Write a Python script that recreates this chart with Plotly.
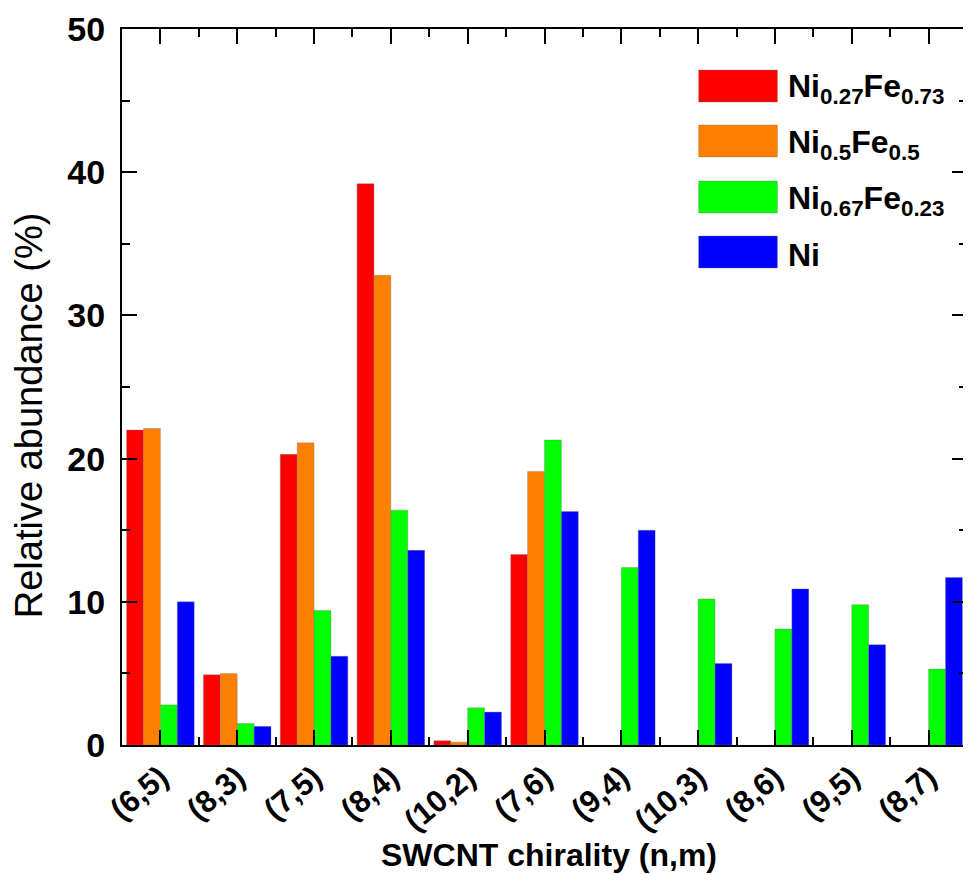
import plotly.graph_objects as go

categories = ["(6,5)", "(8,3)", "(7,5)", "(8,4)", "(10,2)", "(7,6)", "(9,4)", "(10,3)", "(8,6)", "(9,5)", "(8,7)"]
series_names = ["Ni<sub>0.27</sub>Fe<sub>0.73</sub>", "Ni<sub>0.5</sub>Fe<sub>0.5</sub>",
                "Ni<sub>0.67</sub>Fe<sub>0.23</sub>", "Ni"]
ni027fe073 = [22.0, 4.9, 20.3, 39.2, 0.3, 13.3, None, None, None, None, None]
ni05fe05 = [22.1, 5.0, 21.1, 32.8, 0.2, 19.1, None, None, None, None, None]
ni067fe023 = [2.8, 1.5, 9.4, 16.4, 2.6, 21.3, 12.4, 10.2, 8.1, 9.8, 5.3]
ni = [10.0, 1.3, 6.2, 13.6, 2.3, 16.3, 15.0, 5.7, 10.9, 7.0, 11.7]
series_values = [ni027fe073, ni05fe05, ni067fe023, ni]
colors = ["#FF0000", "#FF8000", "#00FF00", "#0000FF"]
x_title = "SWCNT chirality (n,m)"
y_title = "Relative abundance (%)"

FONT = "Liberation Sans, Arial, sans-serif"
xpos = list(range(len(categories)))

fig = go.Figure()
for name, vals, col in zip(series_names, series_values, colors):
    fig.add_trace(go.Bar(x=xpos, y=vals, name=name,
                         marker=dict(color=col, line=dict(width=0.6, color="rgba(120,120,120,0.6)")),
                         showlegend=False))

# page body margin of 8px compensated
OFF = 8
FW, FH = 971 - OFF, 875 - OFF
L, R, T, B = 122 - OFF, 969 - OFF, 29 - OFF, 745 - OFF
W, H = R - L, B - T


def px(xs):
    return (xs - OFF - L) / W


def py(ys):
    return (B - (ys - OFF)) / H


rows = [86, 141, 197, 252]
for name, col, cy in zip(series_names, colors, rows):
    fig.add_shape(type="rect", xref="paper", yref="paper",
                  x0=px(700), x1=px(779), y0=py(cy + 16), y1=py(cy - 16),
                  fillcolor=col, line=dict(width=0.6, color="rgba(120,120,120,0.6)"))
    fig.add_annotation(xref="paper", yref="paper", x=px(788), y=py(cy + 3),
                       text=name, showarrow=False, xanchor="left", yanchor="middle",
                       font=dict(family=FONT, size=32, color="black", weight="bold"))

fig.add_annotation(xref="paper", yref="paper", x=px(29), y=py(415), text=y_title, textangle=-90,
                   showarrow=False, xanchor="center", yanchor="middle",
                   font=dict(family=FONT, size=38, color="black"))
fig.add_annotation(xref="paper", yref="paper", x=px(550), y=py(855), text=x_title,
                   showarrow=False, xanchor="center", yanchor="middle",
                   font=dict(family=FONT, size=32, color="black", weight="bold"))

fig.update_layout(
    width=FW, height=FH,
    margin=dict(l=L, r=FW - R, t=T, b=FH - B),
    paper_bgcolor="white", plot_bgcolor="white",
    barmode="group", bargap=0.12, bargroupgap=0,
    font=dict(family=FONT, color="black"),
)
fig.update_xaxes(
    range=[-0.5, len(categories) - 0.5],
    tickmode="array", tickvals=xpos, ticktext=categories,
    tickangle=-40, tickfont=dict(family=FONT, size=31, weight="bold"),
    ticks="inside", ticklen=15, tickwidth=2, tickcolor="black",
    minor=dict(tick0=0.5, dtick=1, ticks="inside", ticklen=8, tickwidth=2, tickcolor="black"),
    showline=True, linewidth=2, linecolor="black", mirror="allticks",
    showgrid=False, zeroline=False,
)
fig.update_yaxes(
    range=[0, 50], dtick=10, tick0=0,
    tickfont=dict(family=FONT, size=34, weight="bold"),
    ticks="inside", ticklen=15, tickwidth=2, tickcolor="black",
    minor=dict(dtick=5, ticks="inside", ticklen=8, tickwidth=2, tickcolor="black"),
    showline=True, linewidth=2, linecolor="black", mirror="allticks",
    showgrid=False, zeroline=False, ticklabelstandoff=8,
)

fig.write_html("out.html")
